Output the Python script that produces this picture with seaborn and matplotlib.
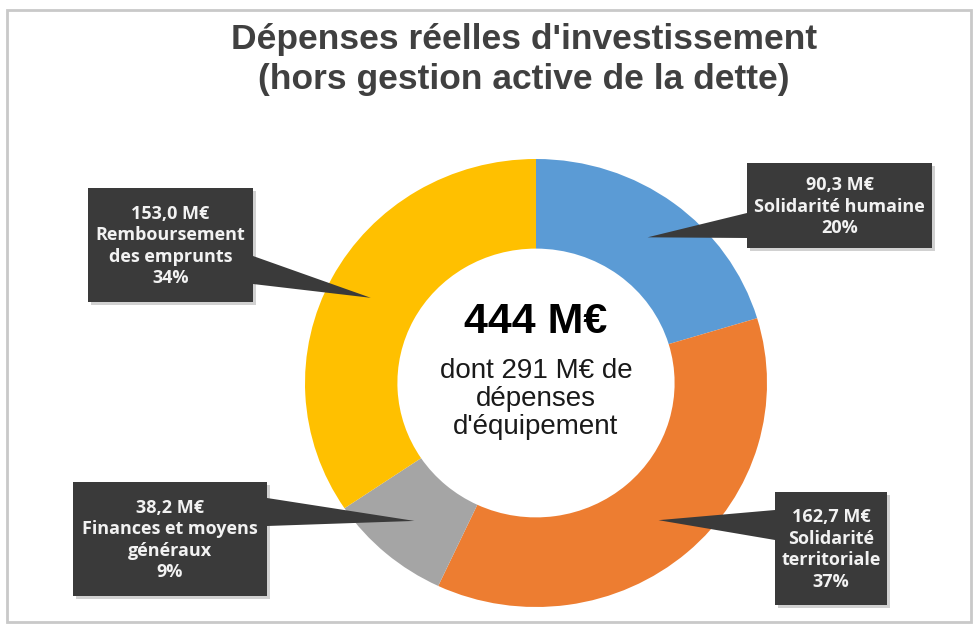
import matplotlib.pyplot as plt
import matplotlib.patches as mpatches
import seaborn as sns
import numpy as np

# data
categories = ["Solidarité humaine", "Solidarité\nterritoriale",
              "Finances et moyens\ngénéraux", "Remboursement\ndes emprunts"]
amounts = [90.3, 162.7, 38.2, 153.0]
shares = ["20%", "37%", "9%", "34%"]
total_label = "444 M€"
sub_label = "dont 291 M€ de\ndépenses\nd'équipement"

colors = sns.color_palette(["#5B9BD5", "#ED7D31", "#A5A5A5", "#FFC000"])

sns.set_theme(style="white")
plt.rcParams['font.family'] = ['Liberation Sans', 'DejaVu Sans']

W, H = 973, 627
fig = plt.figure(figsize=(W / 100, H / 100), dpi=100)
fig.patch.set_facecolor("white")

# donut axes (pixel box of the ring)
cx, cy, rx, ry = 536, 383, 231, 224
ax_pie = fig.add_axes([(cx - rx) / W, (H - cy - ry) / H, 2 * rx / W, 2 * ry / H])
wedges, _ = ax_pie.pie(amounts, colors=colors, startangle=90, counterclock=False,
                       radius=1, wedgeprops=dict(width=0.4, edgecolor="none"))
ax_pie.set_aspect('auto')
ax_pie.set_xlim(-1, 1)
ax_pie.set_ylim(-1, 1)
ax_pie.axis('off')

# overlay in pixel coords
ax = fig.add_axes([0, 0, 1, 1], zorder=5)
ax.set_xlim(0, W)
ax.set_ylim(H, 0)
ax.axis('off')
ax.patch.set_alpha(0)

ax.add_patch(mpatches.Rectangle((7, 10), W - 9, H - 15, fill=False,
                                edgecolor="#c9c9c9", linewidth=2))

ax.text(524, 40, "Dépenses réelles d'investissement", ha='center', va='center',
        fontsize=25.5, fontweight='bold', color="#404040")
ax.text(524, 80, "(hors gestion active de la dette)", ha='center', va='center',
        fontsize=25.5, fontweight='bold', color="#404040")

ax.text(cx, 322, total_label, ha='center', va='center', fontsize=31,
        fontweight='bold', color="black")
ax.text(cx, 399, sub_label, ha='center', va='center', fontsize=20,
        color="#1a1a1a", linespacing=1.1)

# callout boxes: (x0, y0, x1, y1), side of pointer, base y range
boxes = [
    ((747, 163, 932, 248), 'left', (213, 238)),
    ((775, 492, 887, 605), 'left', (510, 540)),
    ((73, 482, 267, 596), 'right', (498, 526)),
    ((88, 188, 253, 302), 'right', (256, 284)),
]
box_col = "#3a3a3a"
to_px = ax.transData.inverted()
for w, amt, cat, sh, (bx, side, (b1, b2)) in zip(wedges, amounts, categories, shares, boxes):
    x0, y0, x1, y1 = bx
    mid = np.deg2rad((w.theta1 + w.theta2) / 2)
    tip = to_px.transform(ax_pie.transData.transform((0.81 * np.cos(mid), 0.81 * np.sin(mid))))
    bxs = x0 if side == 'left' else x1
    # shadow
    ax.add_patch(mpatches.Rectangle((x0 + 3, y0 + 3), x1 - x0, y1 - y0,
                                    facecolor="#000000", alpha=0.18, edgecolor="none"))
    ax.add_patch(mpatches.Polygon([(bxs, b1), tip, (bxs, b2)], closed=True,
                                  facecolor=box_col, edgecolor="none"))
    ax.add_patch(mpatches.Rectangle((x0, y0), x1 - x0, y1 - y0,
                                    facecolor=box_col, edgecolor="none"))
    txt = f"{amt:.1f}".replace('.', ',') + " M€\n" + cat + "\n" + sh
    ax.text((x0 + x1) / 2, (y0 + y1) / 2 + 1, txt, ha='center', va='center',
            fontsize=13, fontweight='bold', color="#f2f2f2", linespacing=1.25,
            family=['Open Sans', 'DejaVu Sans'])

fig.savefig("out.png", dpi=100)
